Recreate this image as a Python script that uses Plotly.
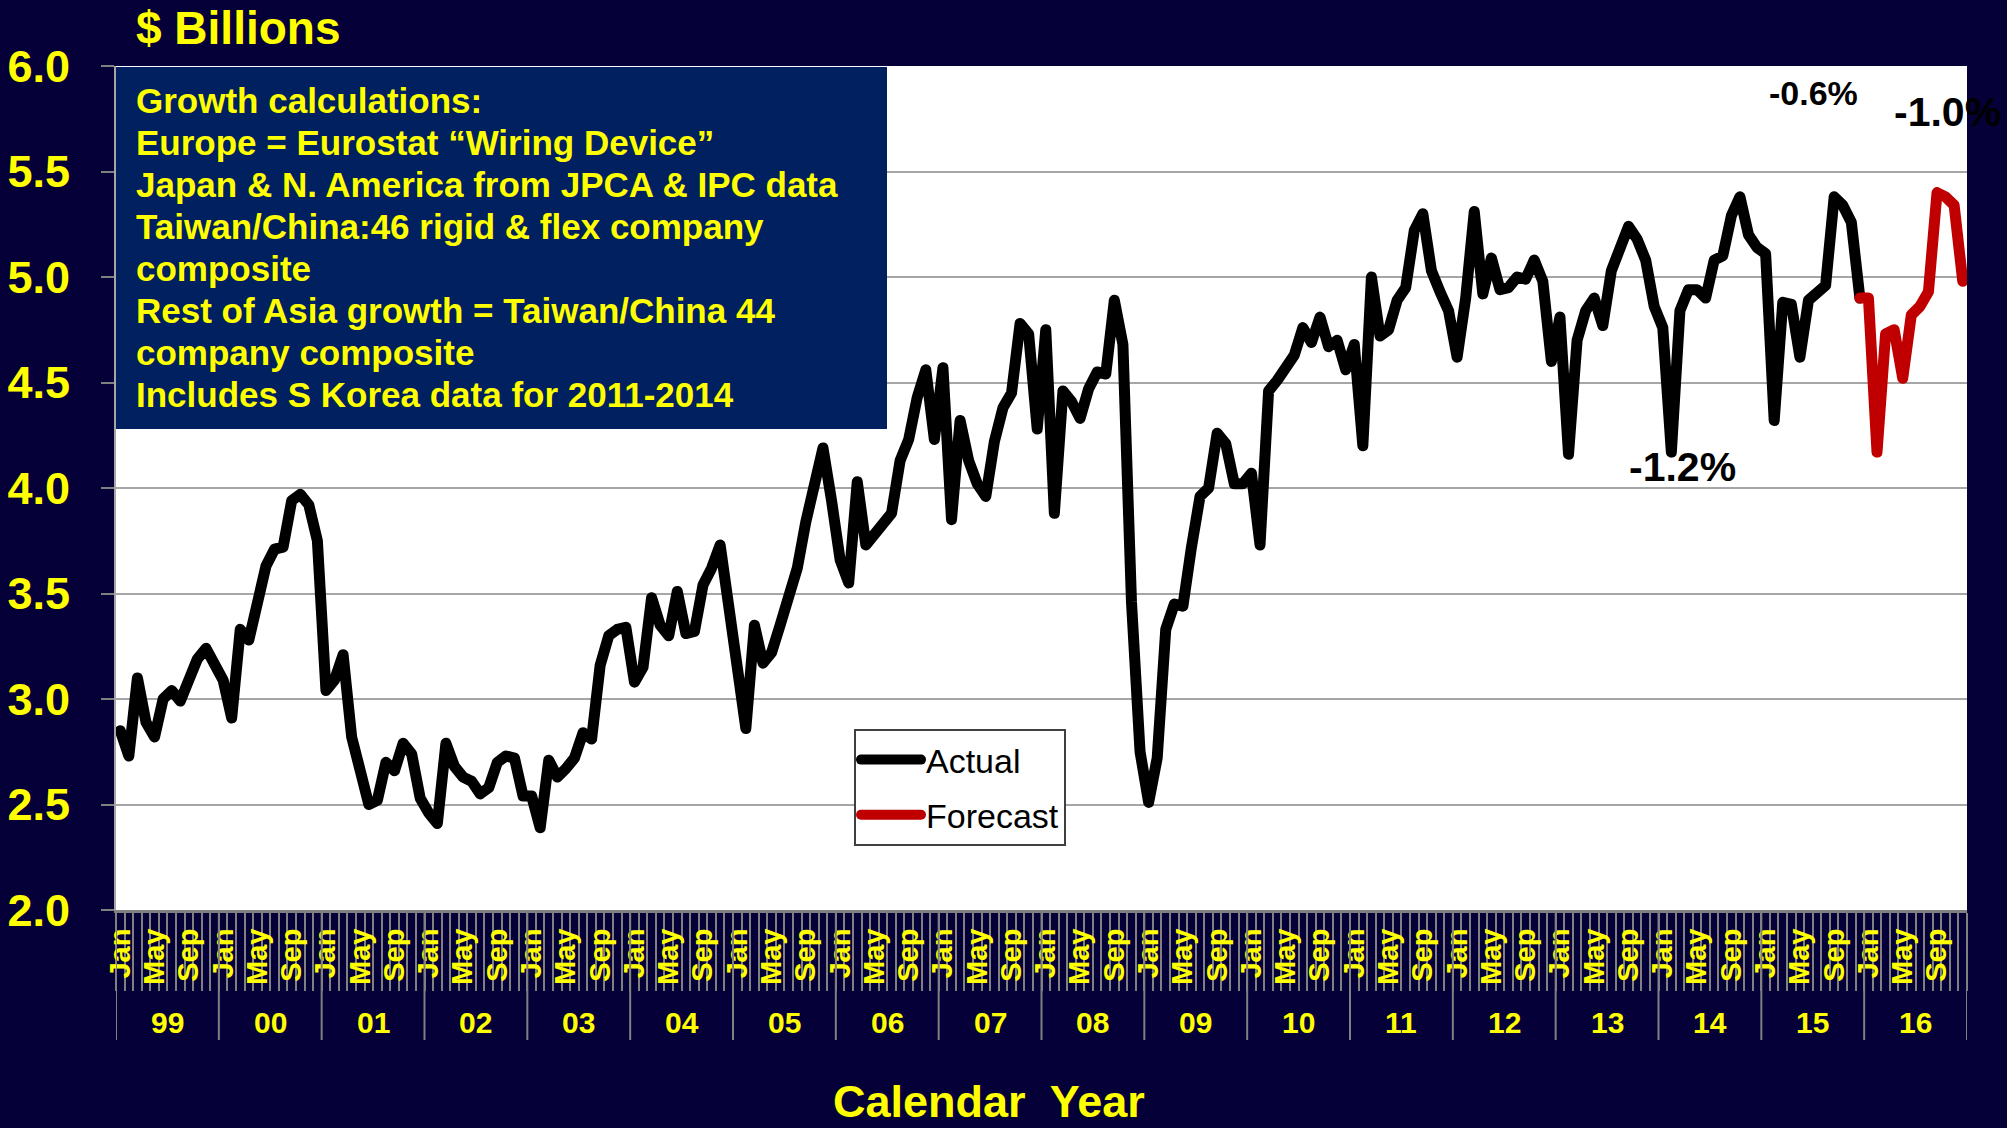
import plotly.graph_objects as go

# monthly values, $ billions
years = list(range(1999, 2017))
month_names = ["Jan", "Feb", "Mar", "Apr", "May", "Jun",
               "Jul", "Aug", "Sep", "Oct", "Nov", "Dec"]

actual = [
    2.85, 2.73, 3.10, 2.89, 2.82, 3.00, 3.04, 2.99, 3.09, 3.19, 3.24, 3.15,  # 1999
    3.09, 2.91, 3.33, 3.28, 3.45, 3.63, 3.71, 3.72, 3.94, 3.97, 3.92, 3.75,  # 2000
    3.04, 3.09, 3.21, 2.82, 2.66, 2.50, 2.52, 2.70, 2.66, 2.79, 2.74, 2.53,  # 2001
    2.46, 2.41, 2.79, 2.68, 2.63, 2.61, 2.55, 2.58, 2.70, 2.73, 2.72, 2.54,  # 2002
    2.54, 2.39, 2.71, 2.63, 2.67, 2.72, 2.84, 2.81, 3.16, 3.30, 3.33, 3.34,  # 2003
    3.08, 3.15, 3.48, 3.35, 3.30, 3.51, 3.31, 3.32, 3.54, 3.62, 3.73, 3.40,  # 2004
    3.15, 2.86, 3.35, 3.17, 3.22, 3.35, 3.49, 3.62, 3.84, 4.04, 4.19, 3.94,  # 2005
    3.66, 3.55, 4.03, 3.73, 3.78, 3.82, 3.88, 4.13, 4.23, 4.43, 4.56, 4.23,  # 2006
    4.57, 3.85, 4.32, 4.13, 4.02, 3.96, 4.22, 4.38, 4.45, 4.78, 4.73, 4.28,  # 2007
    4.75, 3.88, 4.46, 4.41, 4.33, 4.47, 4.55, 4.54, 4.89, 4.68, 3.46, 2.75,  # 2008
    2.51, 2.72, 3.33, 3.45, 3.44, 3.72, 3.96, 4.00, 4.26, 4.21, 4.02, 4.02,  # 2009
    4.07, 3.73, 4.46, 4.51, 4.57, 4.63, 4.76, 4.69, 4.81, 4.67, 4.70, 4.56,  # 2010
    4.68, 4.20, 5.00, 4.72, 4.75, 4.89, 4.95, 5.22, 5.30, 5.03, 4.93, 4.84,  # 2011
    4.62, 4.90, 5.31, 4.92, 5.09, 4.94, 4.95, 5.00, 4.99, 5.08, 4.98, 4.60,  # 2012
    4.81, 4.16, 4.70, 4.84, 4.90, 4.77, 5.03, 5.13, 5.24, 5.18, 5.08, 4.86,  # 2013
    4.76, 4.17, 4.84, 4.94, 4.94, 4.90, 5.08, 5.10, 5.29, 5.38, 5.20, 5.14,  # 2014
    5.11, 4.32, 4.88, 4.87, 4.62, 4.89, 4.92, 4.96, 5.38, 5.34, 5.26, 4.90,  # 2015
]
forecast = [4.90, 4.17, 4.73, 4.75, 4.52, 4.82, 4.86, 4.93, 5.40, 5.38, 5.34, 4.98]  # 2016

growth_labels = ["-1.2%", "-0.6%", "-1.0%"]
growth_pos = [(182.3, 4.10), (197.6, 5.87), (213.2, 5.78)]
growth_size = [41, 34, 41]

note_lines = [
    "Growth calculations:",
    "Europe = Eurostat \u201cWiring Device\u201d",
    "Japan & N. America from JPCA & IPC data",
    "Taiwan/China:46 rigid & flex company",
    "composite",
    "Rest of Asia growth = Taiwan/China 44",
    "company composite",
    "Includes S Korea data for 2011-2014",
]

NAVY = "#050037"
BOX = "#00205F"
YELLOW = "#FFFF00"
GRID = "#A6A6A6"
FONT = "Liberation Sans, Arial, sans-serif"

n_total = len(years) * 12
x_actual = list(range(len(actual)))
x_fore = list(range(len(actual) - 1, n_total))
y_fore = [actual[-1]] + forecast

tickvals = [i for i in range(n_total) if i % 12 in (0, 4, 8)]
ticktext = [month_names[i % 12] for i in tickvals]

fig = go.Figure()
fig.add_trace(go.Scatter(x=x_actual, y=actual, mode="lines", name="Actual",
                         legendgroup="a", line=dict(color="black", width=11)))
fig.add_trace(go.Scatter(x=x_fore, y=y_fore, mode="lines", name="Forecast",
                         legendgroup="f", line=dict(color="#C00000", width=11)))

# plot geometry in pixels (used to convert to paper coords)
W, H = 2007, 1128
L, R, T, B = 116, 40, 66, 218
pw, ph = W - L - R, H - T - B


def px(xp):
    return (xp - L) / pw


def py(yp):
    return (H - B - yp) / ph


shapes = [dict(type="rect", xref="paper", yref="paper",
               x0=0, x1=px(887), y0=py(429), y1=py(67),
               fillcolor=BOX, line=dict(width=0), layer="above")]
# year separators below the axis
for k in range(len(years) + 1):
    shapes.append(dict(type="line", xref="x", yref="paper",
                       x0=12 * k - 0.5, x1=12 * k - 0.5, y0=0, y1=py(1040),
                       line=dict(color="#808080", width=2)))

annotations = []
for k, yr in enumerate(years):
    annotations.append(dict(xref="x", yref="paper", x=12 * k + 5.5, y=py(1022),
                            xanchor="center", yanchor="middle",
                            text=str(yr)[-2:], showarrow=False,
                            font=dict(size=30, color=YELLOW, family=FONT, weight="bold")))
for k, line in enumerate(note_lines):
    annotations.append(dict(xref="paper", yref="paper", x=px(134), y=py(100 + 42.1 * k),
                            xanchor="left", yanchor="middle", text=line, showarrow=False,
                            font=dict(size=35, color=YELLOW, family=FONT, weight="bold")))
for lab, (gx, gy), sz in zip(growth_labels, growth_pos, growth_size):
    annotations.append(dict(xref="x", yref="y", x=gx, y=gy, text=lab, showarrow=False,
                            xanchor="center", yanchor="middle",
                            font=dict(size=sz, color="black", family=FONT, weight="bold")))
annotations.append(dict(xref="paper", yref="paper", x=px(134), y=py(28),
                        xanchor="left", yanchor="middle", text="$ Billions", showarrow=False,
                        font=dict(size=46, color=YELLOW, family=FONT, weight="bold")))
annotations.append(dict(xref="paper", yref="paper", x=px(989), y=py(1101),
                        xanchor="center", yanchor="middle", text="Calendar  Year", showarrow=False,
                        font=dict(size=45, color=YELLOW, family=FONT, weight="bold")))

fig.update_layout(
    width=W, height=H,
    margin=dict(l=L, r=R, t=T, b=B),
    paper_bgcolor=NAVY, plot_bgcolor="white",
    font=dict(family=FONT),
    shapes=shapes, annotations=annotations,
    legend=dict(x=px(854), y=py(729), xanchor="left", yanchor="top",
                bgcolor="white", bordercolor="#404040", borderwidth=2,
                itemwidth=60, tracegroupgap=8,
                font=dict(size=34, color="black", family=FONT)),
    xaxis=dict(range=[-0.5, n_total - 0.5], tickmode="array", tickvals=tickvals,
               ticktext=ticktext, tickangle=-90, ticks="", automargin=False,
               ticklabelstandoff=4,
               tickfont=dict(size=29, color=YELLOW, family=FONT, weight="bold"),
               showgrid=False, zeroline=False, showline=True, linecolor="#808080", linewidth=3,
               minor=dict(ticks="outside", ticklen=78, tickwidth=2, tickcolor="#808080",
                          tickmode="linear", tick0=-0.5, dtick=1, showgrid=False)),
    yaxis=dict(range=[2, 6], dtick=0.5, tickformat=".1f", automargin=False,
               tickfont=dict(size=45, color=YELLOW, family=FONT, weight="bold"),
               ticks="outside", ticklen=13, tickwidth=2, tickcolor="#808080",
               ticklabelstandoff=22,
               showgrid=True, gridcolor=GRID, gridwidth=2, zeroline=False,
               showline=True, linecolor=GRID, linewidth=2),
)

# drop the page margin and round the line joins like the original slide
post = """
document.body.style.margin = '0';
document.querySelectorAll('path.js-line').forEach(function (p) {
    p.style.strokeLinejoin = 'round';
    p.style.strokeLinecap = 'round';
});
"""
fig.write_html("out.html", post_script=post, config={"displayModeBar": False})
